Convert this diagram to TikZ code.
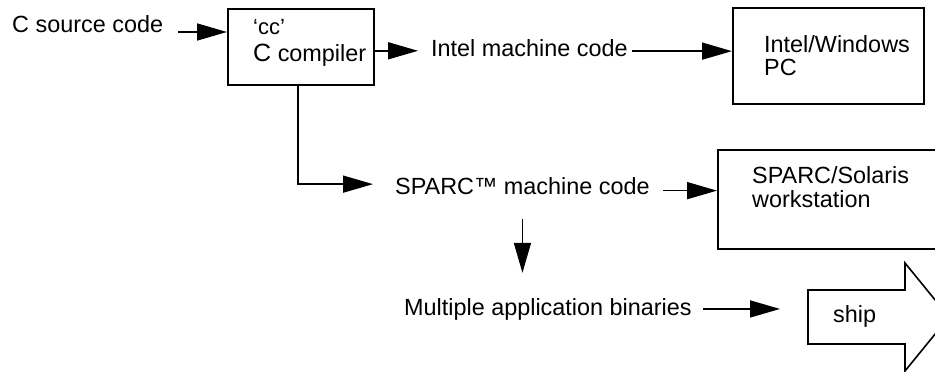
\documentclass[tikz,border=0pt]{standalone}
\usepackage{fontspec}
\setmainfont{Liberation Sans}
\usetikzlibrary{positioning,arrows.meta}

\begin{document}
\begin{tikzpicture}[
		x=1pt,y=-1pt,
		mytext/.style={inner sep=0pt,font=\fontsize{23.4}{23}\selectfont,align=left},
		mybox/.style={draw,line width=1.6pt,inner sep=0pt},
		myarrow/.style={line width=1.6pt,-{Triangle[length=30pt,width=17pt]}}
		]
		\useasboundingbox (0,0) rectangle (935,372);
		% compiler
		\node[mytext,anchor=base west] (source) at (12,32) {C source code};
		\node[mybox,minimum width=146pt,minimum height=76pt,anchor=north west] (compiler) at (227,8) {};
		\node[mytext,anchor=north west] (ccname) at (253,19) {{\fontsize{22}{22}\selectfont ‘cc’}\\[4pt]{\fontsize{25}{23}\selectfont C} compiler};
		% Intel branch
		\node[mytext,anchor=base west] (intel) at (431,56) {Intel machine code};
		\node[mybox,minimum width=191pt,minimum height=96pt,anchor=north west] (pc) at (732,7) {};
		\node[mytext,anchor=north west] (pcname) at (764,35) {Intel/Windows\\PC};
		% SPARC branch
		\node[mytext,anchor=base west] (sparc) at (395,194) {SPARC™ machine code};
		\node[mybox,minimum width=240pt,minimum height=99pt,anchor=north west] (station) at (717,149) {};
		\node[mytext,anchor=north west] (stationname) at (752,166) {SPARC/Solaris\\[1pt]workstation};
		\node[mytext,anchor=base west] (binaries) at (404,315) {Multiple application binaries};
		% ship
		\coordinate (shiptail) at (808,317);
		\draw[line width=1.6pt] (808,290) -- (905,290) -- (905,263) -- (949,317)
			-- (905,371) -- (905,344) -- (808,344) -- cycle;
		\node[mytext,anchor=base west] (ship) at (833,322) {ship};
		% arrows
		\draw[myarrow] ([xshift=15pt]source.base east) -- (compiler.west |- source.base);
		\draw[myarrow] ([yshift=-4pt]compiler.east) -- ([xshift=-13pt,yshift=-4pt]compiler.east -| intel.west);
		\draw[myarrow] ([xshift=4pt,yshift=-3.5pt]intel.east) -- ([yshift=-3.5pt]intel.east -| pc.west);
		\draw[myarrow] ([xshift=-3pt]compiler.south) |- ([xshift=-22pt,yshift=1.5pt]sparc.west);
		\draw[myarrow] ([xshift=13pt,yshift=-5pt]sparc.east) -- ([yshift=-5pt]sparc.east -| station.west);
		\draw[myarrow] ([yshift=-25pt]sparc.south) -- ([yshift=25pt]sparc.south |- binaries.north);
		\draw[myarrow] ([xshift=11pt]binaries.east) -- ([xshift=-28pt]binaries.east -| shiptail);
	\end{tikzpicture}
\end{document}
